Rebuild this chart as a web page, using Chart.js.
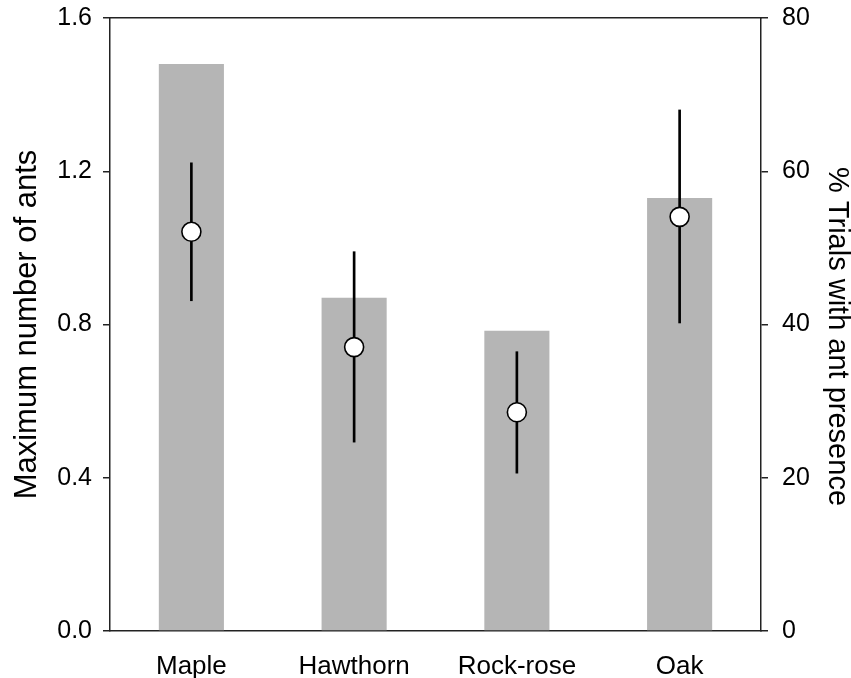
<!DOCTYPE html>
<html>
<head>
<meta charset="utf-8">
<script src="https://cdn.jsdelivr.net/npm/chart.js@4.4.1/dist/chart.umd.min.js"></script>
<style>
  html, body { margin: 0; padding: 0; background: #ffffff; }
  #wrap { width: 851px; height: 678px; }
</style>
</head>
<body>
<div id="wrap"><canvas id="c" width="851" height="678"></canvas></div>
<script>
const categories = ["Maple", "Hawthorn", "Rock-rose", "Oak"];
const presencePct = [74.0, 43.5, 39.2, 56.5];
const maxAnts = [1.042, 0.741, 0.571, 1.081];
const maxAntsLow = [0.862, 0.493, 0.412, 0.804];
const maxAntsHigh = [1.222, 0.990, 0.729, 1.360];
const leftTicks = [0, 0.4, 0.8, 1.2, 1.6];
const rightTicks = [0, 20, 40, 60, 80];
const leftTitle = 'Maximum number of ants';
const rightTitle = '% Trials with ant presence';

const FONT = "'Liberation Sans', Arial, sans-serif";
const errorRanges = maxAntsLow.map((lo, i) => [lo, maxAntsHigh[i]]);

// Right axis title, drawn beside the right scale (slightly below its centre, as in the reference)
const rightTitlePlugin = {
  id: 'rightTitle',
  afterDraw(chart) {
    const s = chart.scales.y2;
    const ctx = chart.ctx;
    ctx.save();
    ctx.translate(s.right - 14, (s.top + s.bottom) / 2 + 12);
    ctx.rotate(Math.PI / 2);
    ctx.font = "29px " + FONT;
    ctx.fillStyle = '#000000';
    ctx.textAlign = 'center';
    ctx.textBaseline = 'middle';
    ctx.fillText(rightTitle, 0, 0);
    ctx.restore();
  }
};

new Chart(document.getElementById('c'), {
  data: {
    labels: categories,
    datasets: [
      {
        type: 'line',
        label: 'Maximum number of ants',
        data: maxAnts,
        yAxisID: 'y',
        showLine: false,
        pointRadius: 9.5,
        pointBackgroundColor: '#ffffff',
        pointBorderColor: '#000000',
        pointBorderWidth: 1.6,
        order: 1
      },
      {
        type: 'bar',
        label: 'error',
        data: errorRanges,
        yAxisID: 'y',
        backgroundColor: '#000000',
        barThickness: 2,
        grouped: false,
        order: 2
      },
      {
        type: 'bar',
        label: '% Trials with ant presence',
        data: presencePct,
        yAxisID: 'y2',
        backgroundColor: '#b5b5b5',
        barPercentage: 0.4,
        categoryPercentage: 1.0,
        grouped: false,
        order: 3
      }
    ]
  },
  plugins: [rightTitlePlugin],
  options: {
    responsive: false,
    animation: false,
    layout: { padding: { top: 18, left: 0, right: 0, bottom: 0 } },
    plugins: { legend: { display: false }, tooltip: { enabled: false } },
    scales: {
      x: {
        type: 'category',
        position: 'bottom',
        grid: { display: false, drawTicks: false },
        border: { display: true, color: '#222222', width: 1.5 },
        ticks: { color: '#000000', font: { family: FONT, size: 26 }, padding: 20, maxRotation: 0 },
        afterFit: s => { s.height = 47; }
      },
      x2: {
        type: 'category',
        position: 'top',
        grid: { display: false, drawTicks: false },
        border: { display: true, color: '#222222', width: 1.5 },
        ticks: { display: false },
        afterFit: s => { s.height = 0; }
      },
      y: {
        position: 'left',
        min: 0, max: 1.6,
        afterBuildTicks: s => { s.ticks = leftTicks.map(v => ({ value: v })); },
        ticks: {
          color: '#000000',
          font: { family: FONT, size: 25, lineHeight: 0.3 },
          padding: 11,
          callback: v => Number(v).toFixed(1)
        },
        grid: { drawOnChartArea: false, drawTicks: true, tickLength: 7, color: '#222222', lineWidth: 1.5 },
        border: { display: true, color: '#222222', width: 1.5 },
        title: {
          display: true,
          text: leftTitle,
          color: '#000000',
          font: { family: FONT, size: 31, lineHeight: 1.0 },
          padding: { top: 12, bottom: 0 }
        },
        afterFit: s => { s.width = 110; }
      },
      y2: {
        position: 'right',
        min: 0, max: 80,
        afterBuildTicks: s => { s.ticks = rightTicks.map(v => ({ value: v })); },
        ticks: {
          color: '#000000',
          font: { family: FONT, size: 25, lineHeight: 0.3 },
          padding: 14
        },
        grid: { drawOnChartArea: false, drawTicks: true, tickLength: 7, color: '#222222', lineWidth: 1.5 },
        border: { display: true, color: '#222222', width: 1.5 },
        title: { display: false },
        afterFit: s => { s.width = 90; }
      }
    }
  }
});
</script>
</body>
</html>
